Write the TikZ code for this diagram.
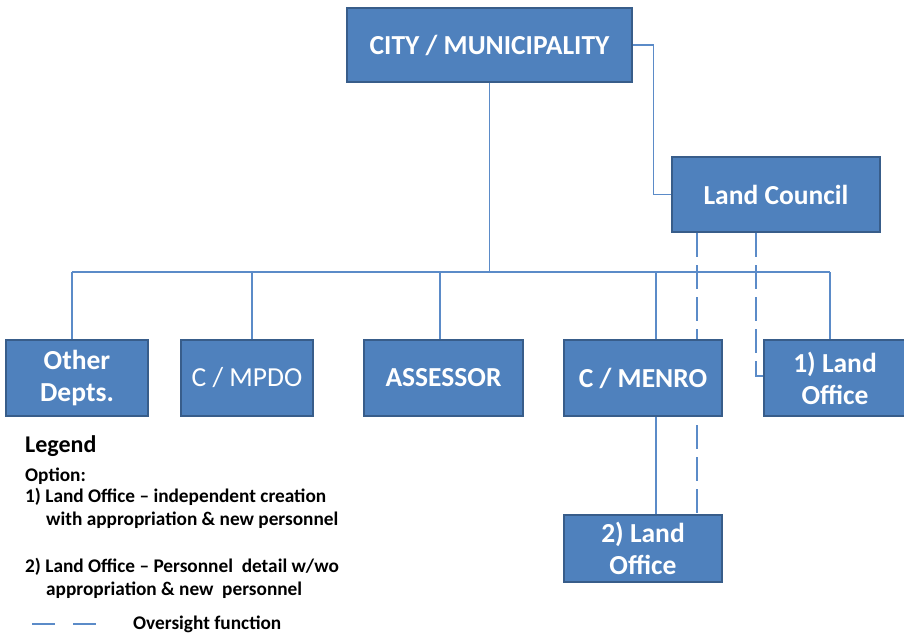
\documentclass[tikz,border=0pt]{standalone}
\usepackage{fontspec}
\setmainfont{Carlito}
\pgfdeclarelayer{background}
\pgfsetlayers{background,main}
\definecolor{boxfill}{HTML}{4F81BD}
\definecolor{boxedge}{HTML}{385D8A}
\definecolor{conncol}{HTML}{5B8BC8}
\tikzset{
  orgbox/.style={draw=boxedge, fill=boxfill, line width=2.5pt, text=white, font=\fontsize{27.5}{32}\selectfont\bfseries, align=center, inner sep=0pt},
  conn/.style={draw=conncol, line width=1.4pt},
  oversight/.style={draw=conncol, line width=1.4pt, dash pattern=on 24pt off 8pt},
  legtext/.style={anchor=base west, inner sep=0pt, font=\fontsize{19.3}{23}\selectfont\bfseries, align=left}
}
\begin{document}
\begin{tikzpicture}[x=1pt,y=-1pt]
\useasboundingbox (0,0) rectangle (904,634);
% boxes
\node[orgbox, minimum width=285pt, minimum height=74pt] (city) at (489.5,45) {CITY / MUNICIPALITY};
\node[orgbox, minimum width=208pt, minimum height=75pt] (council) at (776,194.5) {Land Council};
\node[orgbox, minimum width=142pt, minimum height=76pt] (other) at (77,378) {Other\\[0pt]Depts.};
\node[orgbox, minimum width=132pt, minimum height=76pt, font=\fontsize{27.5}{32}\selectfont\mdseries] (mpdo) at (247,378) {C / MPDO};
\node[orgbox, minimum width=159pt, minimum height=76pt] (assessor) at (443.5,378) {ASSESSOR};
\node[orgbox, minimum width=158pt, minimum height=76pt] (menro) at (643,378) {C / MENRO};
\node[orgbox, minimum width=142pt, minimum height=76pt] (lo1) at (835,378) {1) Land\\Office};
\node[orgbox, minimum width=158pt, minimum height=67pt] (lo2) at (643,548.5) {2) Land\\Office};
% oversight connectors (behind boxes)
\begin{pgfonlayer}{background}
\draw[oversight] ([xshift=-79pt]council.south) -- ([xshift=-79pt]council.south |- lo2.north);
\draw[oversight] ([xshift=-20pt]council.south) |- ([yshift=2pt]lo1.west);
\end{pgfonlayer}
% solid connectors
\coordinate (busL) at (72,272);
\coordinate (busR) at (830,272);
\draw[conn] (city.east) -- ++(20,0) |- (council.west);
\draw[conn] (city.south) -- (city.south |- busL);
\draw[conn] (busL) -- (busR);
\draw[conn] (busL) -- (busL |- other.north);
\draw[conn] ([xshift=5pt]mpdo.north |- busL) -- ([xshift=5pt]mpdo.north);
\draw[conn] ([xshift=-3.5pt]assessor.north |- busL) -- ([xshift=-3.5pt]assessor.north);
\draw[conn] ([xshift=13pt]menro.north |- busL) -- ([xshift=13pt]menro.north);
\draw[conn] (busR) -- (busR |- lo1.north);
\draw[conn] ([xshift=13pt]menro.south) -- ([xshift=13pt]lo2.north);
% legend
\node[anchor=base west, inner sep=0pt, font=\fontsize{24}{28}\selectfont\bfseries] (legend) at (25,452) {Legend};
\node[legtext] (opt) at (25,481) {Option:};
\node[legtext] (opt1a) at (25,502) {1) Land Office -- independent creation};
\node[legtext] (opt1b) at (46,525) {with appropriation \& new personnel};
\node[legtext] (opt2a) at (25,572) {2) Land Office -- Personnel\ \ detail w/wo};
\node[legtext] (opt2b) at (46,595) {appropriation \& new\ \ personnel};
\node[legtext] (ovs) at (133,629) {Oversight function};
\coordinate (legA) at (32,624);
\coordinate (legB) at (97,624);
\draw[conncol, line width=1.4pt, dash pattern=on 23pt off 18pt] (legA) -- (legB);
\end{tikzpicture}
\end{document}
